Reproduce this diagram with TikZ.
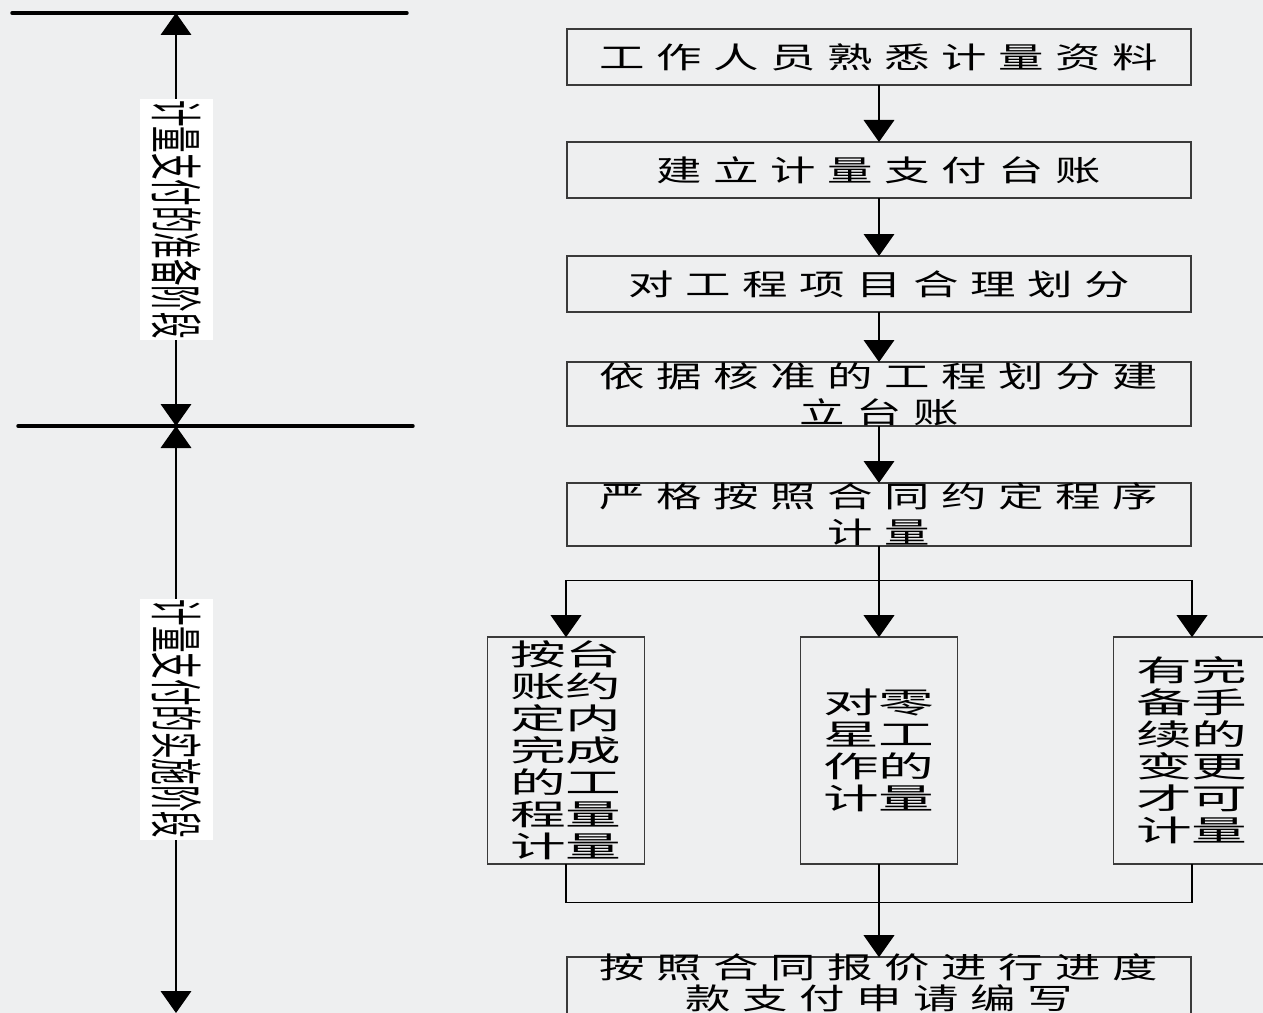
\documentclass[tikz,border=0pt]{standalone}
\usepackage{fontspec}
\usepackage{graphicx}
\setmainfont{Noto Sans CJK SC}
\usetikzlibrary{arrows.meta,positioning}
\definecolor{paper}{HTML}{EEEFF0}
\definecolor{frame}{HTML}{3A3A3A}

\ExplSyntaxOn
\NewDocumentCommand\spread{mmm}{\tl_map_inline:nn{#3}{\makebox[#1]{\scalebox{#2}[1]{##1}}}}
\ExplSyntaxOff
\newcommand\wide[1]{\spread{42.75pt}{1.55}{#1}}
\newcommand\pair[1]{\spread{41.25pt}{1.9}{#1}}

\begin{document}
\begin{tikzpicture}[
  x=0.75pt, y=-0.75pt,
  font=\fontsize{22pt}{27pt}\selectfont,
  stage/.style={draw=frame, fill=paper, line width=1.1pt, inner sep=0pt, outer sep=0pt,
    minimum width=468pt, minimum height=#1, align=center},
  branch/.style={draw=frame, fill=paper, line width=1.1pt, inner sep=0pt, outer sep=0pt,
    minimum width=117.75pt, minimum height=170.25pt, align=center,
    font=\fontsize{22pt}{24pt}\selectfont},
  flow/.style={-{Triangle[width=23pt,length=16.5pt]}, line width=1pt},
  link/.style={line width=1pt},
  span/.style={{Triangle[width=23pt,length=16.5pt]}-{Triangle[width=23pt,length=16.5pt]}, line width=1pt},
  rule/.style={line width=2.6pt, line cap=round},
  phase/.style={fill=white, rotate=-90, inner sep=0pt, minimum width=180.75pt,
    minimum height=54.75pt, font=\fontsize{39.75pt}{40pt}\selectfont}
]
  \useasboundingbox (0,0) rectangle (1263,1013);
  \fill[paper] (0,0) rectangle (1263,1013);

  % stage axis on the left
  \coordinate (ruleA1) at (12,13);
  \coordinate (ruleA2) at (407,13);
  \coordinate (ruleB1) at (18,426);
  \coordinate (ruleB2) at (413,426);
  \coordinate (axisTop) at (176,13);
  \coordinate (axisMid) at (176,426);
  \coordinate (axisEnd) at (176,1013);
  \draw[span] (axisTop) -- (axisMid);
  \draw[span] (axisMid) -- (axisEnd);
  \draw[rule] (ruleA1) -- (ruleA2);
  \draw[rule] (ruleB1) -- (ruleB2);
  \node[phase] (prep) at (176.5,219.5) {\scalebox{0.5}[1]{计量支付的准备阶段}};
  \node[phase] (impl) at (176.5,719) {\scalebox{0.5}[1]{计量支付的实施阶段}};

  % process chain
  \node[stage=42pt] (study) at (879,57) {\wide{工作人员熟悉计量资料}};
  \node[stage=42pt, below=42.75pt of study] (ledger) {\wide{建立计量支付台账}};
  \node[stage=42pt, below=43.5pt of ledger] (divide) {\wide{对工程项目合理划分}};
  \node[stage=48pt, below=37.5pt of divide] (rebuild) {\wide{依据核准的工程划分建}\\\wide{立台账}};
  \node[stage=45.75pt, below=42.75pt of rebuild] (measure) {\wide{严格按照合同约定程序}\\\wide{计量}};

  \node[branch, below=68.25pt of measure] (daywork) {\pair{对零}\\\pair{星工}\\\pair{作的}\\\pair{计量}};
  \node[branch, left=117pt of daywork] (contract) {\pair{按台}\\\pair{账约}\\\pair{定内}\\\pair{完成}\\\pair{的工}\\\pair{程量}\\\pair{计量}};
  \node[branch, right=117pt of daywork] (variation) {\pair{有完}\\\pair{备手}\\\pair{续的}\\\pair{变更}\\\pair{才可}\\\pair{计量}};

  \node[stage=46.5pt, below=69.75pt of daywork.south,
    label={[align=center, inner sep=0pt, yshift=4pt, font=\fontsize{22pt}{23.25pt}\selectfont]center:{\wide{按照合同报价进行进度}\\\wide{款支付申请编写}}}] (apply) {};

  \draw[flow] (study) -- (ledger);
  \draw[flow] (ledger) -- (divide);
  \draw[flow] (divide) -- (rebuild);
  \draw[flow] (rebuild) -- (measure);

  \coordinate[below=25.5pt of measure.south] (split);
  \coordinate[below=28.5pt of daywork.south] (join);
  \draw[flow] (measure) -- (daywork);
  \draw[flow] (split) -| (contract);
  \draw[flow] (split) -| (variation);
  \draw[link] (contract) |- (join);
  \draw[link] (variation) |- (join);
  \draw[flow] (daywork) -- (apply);
\end{tikzpicture}
\end{document}
